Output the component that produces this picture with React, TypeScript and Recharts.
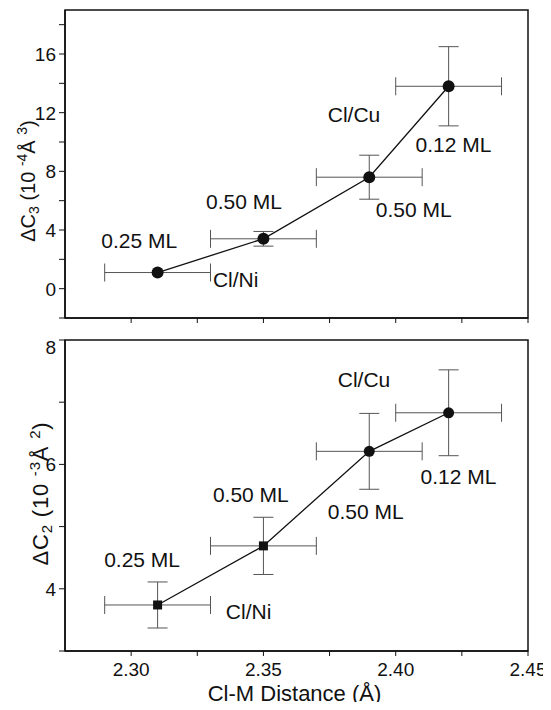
import { ScatterChart, Scatter, XAxis, YAxis, ErrorBar, ReferenceArea } from "recharts";

// Cl-M bond distance (Å) for the four coverages: Cl/Ni 0.25, 0.50 ML; Cl/Cu 0.50, 0.12 ML
const distance = [2.31, 2.35, 2.39, 2.42];
const distanceErr = [0.02, 0.02, 0.02, 0.02];

const dC3 = [1.1, 3.4, 7.6, 13.8];
const dC3Err = [0, 0.5, 1.5, 2.7];

const dC2 = [3.74, 4.69, 6.21, 6.83];
const dC2Err = [0.37, 0.46, 0.61, 0.69];
const dC2Marker = ["square", "square", "circle", "circle"];

const xTicks = [2.3, 2.325, 2.35, 2.375, 2.4, 2.425, 2.45];
const xMajor = [2.3, 2.35, 2.4, 2.45];
const c3Ticks = [-2, 0, 2, 4, 6, 8, 10, 12, 14, 16, 18];
const c3Major = [0, 4, 8, 12, 16];
const c2Ticks = [3, 4, 5, 6, 7, 8];
const c2Major = [4, 6, 8];

// annotations, anchored at left / baseline, in data units
const c3NoteText = ["0.25 ML", "0.50 ML", "Cl/Ni", "Cl/Cu", "0.12 ML", "0.50 ML"];
const c3NoteX = [2.2887, 2.3283, 2.3309, 2.3743, 2.4075, 2.3925];
const c3NoteY = [2.8, 5.4, 0.14, 11.37, 9.3, 4.86];
const c2NoteText = ["0.25 ML", "0.50 ML", "Cl/Ni", "Cl/Cu", "0.12 ML", "0.50 ML"];
const c2NoteX = [2.2898, 2.3309, 2.3358, 2.3781, 2.4094, 2.3743];
const c2NoteY = [4.35, 5.39, 3.52, 7.25, 5.68, 5.12];

const X_DOMAIN: [number, number] = [2.275, 2.45];
const C3_DOMAIN: [number, number] = [-2, 19];
const C2_DOMAIN: [number, number] = [3, 8];

const FONT = "Arial, 'Liberation Sans', Helvetica, sans-serif";
const INK = "#111";
const ERR = "#555";

const c3Data = distance.map((x, i) => ({ x, y: dC3[i], ex: distanceErr[i], ey: dC3Err[i], marker: "circle" }));
const c2Data = distance.map((x, i) => ({ x, y: dC2[i], ex: distanceErr[i], ey: dC2Err[i], marker: dC2Marker[i] }));
const c3Notes = c3NoteText.map((text, i) => ({ x: c3NoteX[i], y: c3NoteY[i], text }));
const c2Notes = c2NoteText.map((text, i) => ({ x: c2NoteX[i], y: c2NoteY[i], text }));

function Marker(props: any) {
  const { cx, cy, payload } = props;
  if (cx == null || cy == null) return null;
  if (payload.marker === "square") {
    return <rect x={cx - 4.5} y={cy - 4.5} width={9} height={9} fill={INK} />;
  }
  const r = props.big ? 6 : 5.5;
  return <circle cx={cx} cy={cy} r={r} fill={INK} />;
}

function Note(props: any) {
  const { cx, cy, payload } = props;
  if (cx == null || cy == null) return null;
  return (
    <text x={cx} y={cy} fontSize={21} fill={INK} fontFamily={FONT}>
      {payload.text}
    </text>
  );
}

function makeYTick(majors: number[]) {
  return (props: any) => {
    const { x, y, payload } = props;
    if (!majors.includes(payload.value)) return <g />;
    return (
      <text x={x} y={y} dy="0.36em" textAnchor="end" fontSize={19} fill={INK} fontFamily={FONT}>
        {String(payload.value)}
      </text>
    );
  };
}

function XTick(props: any) {
  const { x, y, payload } = props;
  if (!xMajor.includes(payload.value)) return <g />;
  return (
    <text x={x} y={y} dy="0.72em" textAnchor="middle" fontSize={19} fill={INK} fontFamily={FONT}>
      {payload.value.toFixed(2)}
    </text>
  );
}

const C3Tick = makeYTick(c3Major);
const C2Tick = makeYTick(c2Major);

function C3Label(props: any) {
  const { x, y, height } = props.viewBox;
  const cx = x + 27;
  const cy = y + height / 2 + 17;
  return (
    <text transform={`rotate(-90 ${cx} ${cy})`} x={cx} y={cy} textAnchor="middle" fontSize={20} fill={INK} fontFamily={FONT}>
      ΔC
      <tspan dy={4} fontSize={14}>3</tspan>
      <tspan dy={-4}> (10 </tspan>
      <tspan dy={-8} fontSize={14}>-4</tspan>
      <tspan dy={8}>Å </tspan>
      <tspan dy={-8} fontSize={14}>3</tspan>
      <tspan dy={8}>)</tspan>
    </text>
  );
}

function C2Label(props: any) {
  const { x, y, height } = props.viewBox;
  const cx = x + 40;
  const cy = y + height / 2 - 2;
  return (
    <text transform={`rotate(-90 ${cx} ${cy})`} x={cx} y={cy} textAnchor="middle" fontSize={22} letterSpacing={0.8} fill={INK} fontFamily={FONT}>
      ΔC
      <tspan dy={4} fontSize={15}>2</tspan>
      <tspan dy={-4}> (10 </tspan>
      <tspan dy={-8} fontSize={15}>-3</tspan>
      <tspan dy={8}>Å </tspan>
      <tspan dy={-8} fontSize={15}>2</tspan>
      <tspan dy={8}>)</tspan>
    </text>
  );
}

function XLabel(props: any) {
  const { x, y, width } = props.viewBox;
  return (
    <text x={x + width / 2 - 2} y={y + 50} textAnchor="middle" fontSize={22} fill={INK} fontFamily={FONT}>
      Cl-M Distance (Å)
    </text>
  );
}

export default function App() {
  return (
    <div style={{ position: "relative", width: 543, height: 702, marginBottom: -8, overflow: "hidden", background: "#fff" }}>
      <div style={{ position: "absolute", left: 0, top: 0 }}>
        <ScatterChart width={543} height={330} margin={{ top: 2, right: 23, bottom: 0, left: 0 }}>
          <ReferenceArea x1={X_DOMAIN[0]} x2={X_DOMAIN[1]} y1={C3_DOMAIN[0]} y2={C3_DOMAIN[1]} fill="none" stroke={INK} strokeWidth={1.5} ifOverflow="visible" />
          <XAxis type="number" dataKey="x" domain={X_DOMAIN} ticks={xTicks} allowDataOverflow height={20} tick={<g />} tickSize={5} axisLine={{ stroke: INK, strokeWidth: 1.5 }} tickLine={{ stroke: INK }} />
          <YAxis type="number" dataKey="y" domain={C3_DOMAIN} ticks={c3Ticks} allowDataOverflow width={57} tick={C3Tick} tickSize={6} tickMargin={3} axisLine={{ stroke: INK, strokeWidth: 1.5 }} tickLine={{ stroke: INK }} label={C3Label} />
          <YAxis yAxisId="r" orientation="right" type="number" domain={C3_DOMAIN} ticks={c3Ticks} allowDataOverflow width={0} tick={<g />} tickSize={3} axisLine={false} tickLine={{ stroke: INK }} />
          <Scatter data={c3Data} line={{ stroke: INK, strokeWidth: 1.3 }} lineType="joint" shape={(p: any) => <Marker {...p} big />} isAnimationActive={false}>
            <ErrorBar dataKey="ex" direction="x" width={9} stroke={ERR} strokeWidth={1} isAnimationActive={false} />
            <ErrorBar dataKey="ey" direction="y" width={10} stroke={ERR} strokeWidth={1} isAnimationActive={false} />
          </Scatter>
          <Scatter data={c3Notes} shape={Note} isAnimationActive={false} />
        </ScatterChart>
      </div>
      <div style={{ position: "absolute", left: 0, top: 330 }}>
        <ScatterChart width={543} height={372} margin={{ top: 2, right: 23, bottom: 0, left: 0 }}>
          <ReferenceArea x1={X_DOMAIN[0]} x2={X_DOMAIN[1]} y1={C2_DOMAIN[0]} y2={C2_DOMAIN[1]} fill="none" stroke={INK} strokeWidth={1.5} ifOverflow="visible" />
          <XAxis type="number" dataKey="x" domain={X_DOMAIN} ticks={xTicks} allowDataOverflow height={59} tick={XTick} tickSize={5} tickMargin={6} axisLine={{ stroke: INK, strokeWidth: 1.5 }} tickLine={{ stroke: INK }} label={XLabel} />
          <YAxis type="number" dataKey="y" domain={C2_DOMAIN} ticks={c2Ticks} allowDataOverflow width={57} tick={C2Tick} tickSize={6} tickMargin={3} axisLine={{ stroke: INK, strokeWidth: 1.5 }} tickLine={{ stroke: INK }} label={C2Label} />
          <YAxis yAxisId="r" orientation="right" type="number" domain={C2_DOMAIN} ticks={c2Ticks} allowDataOverflow width={0} tick={<g />} tickSize={3} axisLine={false} tickLine={{ stroke: INK }} />
          <Scatter data={c2Data} line={{ stroke: INK, strokeWidth: 1.3 }} lineType="joint" shape={Marker} isAnimationActive={false}>
            <ErrorBar dataKey="ex" direction="x" width={9} stroke={ERR} strokeWidth={1} isAnimationActive={false} />
            <ErrorBar dataKey="ey" direction="y" width={10} stroke={ERR} strokeWidth={1} isAnimationActive={false} />
          </Scatter>
          <Scatter data={c2Notes} shape={Note} isAnimationActive={false} />
        </ScatterChart>
      </div>
    </div>
  );
}
